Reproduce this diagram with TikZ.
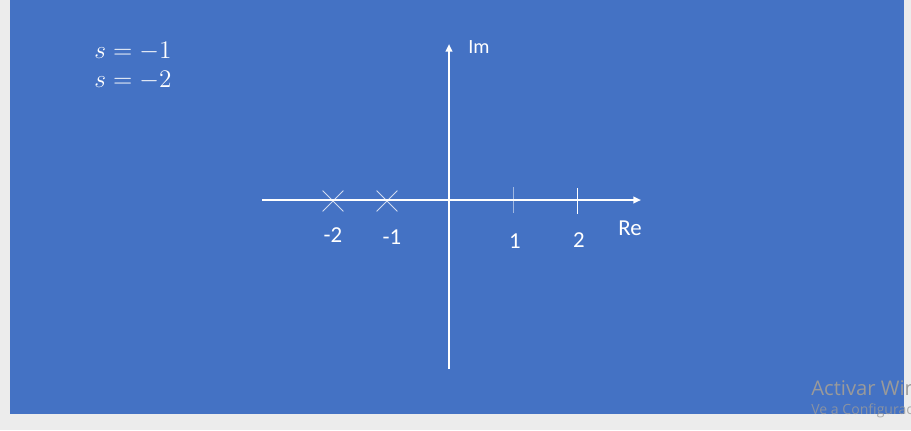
\documentclass[tikz,border=0pt]{standalone}
\usepackage{fontspec}
\setmainfont{Carlito}
\newfontfamily\wmfont{Open Sans}
\usetikzlibrary{positioning,arrows.meta,shapes.misc}
\definecolor{slideblue}{HTML}{4472C4}
\definecolor{pagegray}{HTML}{ECECEC}
\definecolor{wmgray}{HTML}{9A9A9A}

\begin{document}
\begin{tikzpicture}[
        x=0.02cm, y=-0.02cm,
        axis/.style={white, line width=1.1pt, -{Triangle[length=4.4pt,width=3.8pt]}},
        tickmark/.style={white, line width=0.55pt},
        pole/.style={cross out, draw=white, draw opacity=0.75, line width=0.45pt, minimum size=11.4pt, inner sep=0pt},
        lbl/.style={text=white, font=\fontsize{13}{15}\selectfont, inner sep=0pt},
        eqn/.style={text=white, font=\fontsize{14.4}{17}\selectfont, anchor=base west, inner sep=0pt},
        wm/.style={text=wmgray, anchor=base west, inner sep=0pt}
    ]

    % page and slide
    \fill[pagegray] (0,0) rectangle (911,430);
    \useasboundingbox (0,0) rectangle (911,430);
    \fill[slideblue] (10,0) rectangle (904,414);

    % poles
    \node[eqn] (s1) at (94,58) {$s=-1$};
    \node[eqn] (s2) at (94,87) {$s=-2$};

    % axes
    \coordinate (reW) at (262,200);
    \coordinate (reE) at (641,200);
    \coordinate (imS) at (449,369);
    \coordinate (imN) at (449,44);
    \draw[axis] (reW) -- (reE);
    \draw[axis] (imS) -- (imN);
    \node[lbl] (re) at (630,228) {Re};
    \node[lbl, font=\fontsize{11.5}{13}\selectfont] (im) at (479,47) {Im};

    % ticks
    \coordinate (t1a) at (513,187);
    \coordinate (t1b) at (513,213);
    \coordinate (t2a) at (577,188);
    \coordinate (t2b) at (577,214);
    \draw[tickmark, draw opacity=0.5] (t1a) -- (t1b);
    \draw[tickmark] (t2a) -- (t2b);
    \node[lbl] (one) at (515,241) {1};
    \node[lbl] (two) at (579,240) {2};

    % crosses
    \node[pole] (p2) at (333,201) {};
    \node[pole] (p1) at (387,201) {};
    \node[lbl] (m2) at (333,235) {-2};
    \node[lbl] (m1) at (392,237) {-1};

    % watermark
    \node[wm, font=\wmfont\fontsize{11.5}{13}\selectfont] (act) at (811,395) {Activar Win};
    \node[wm, font=\wmfont\fontsize{8}{10}\selectfont, text opacity=0.8] (cfg) at (811,414) {Ve a Configurac};

\end{tikzpicture}
\end{document}
